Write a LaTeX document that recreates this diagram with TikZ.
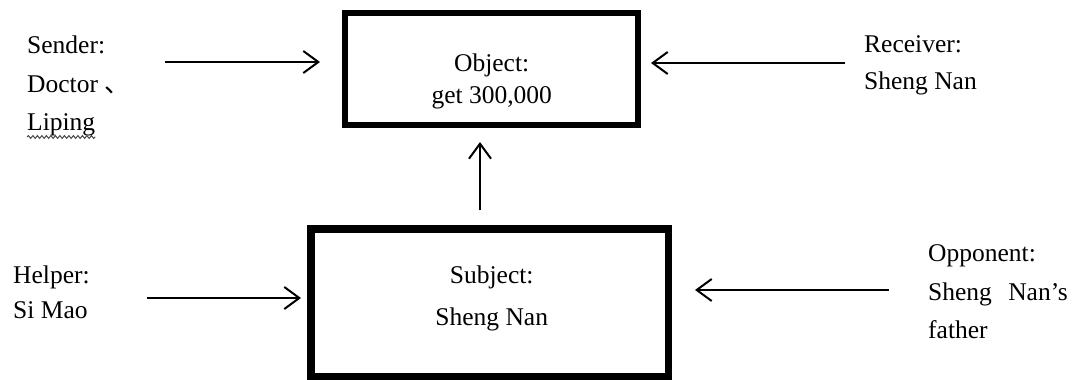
\documentclass[tikz,border=0pt]{standalone}
\usepackage{fontspec}
\setmainfont{Liberation Serif}
\newfontfamily\cjkf{Noto Sans CJK SC}
\usetikzlibrary{arrows.meta,decorations.pathmorphing}
\begin{document}
\begin{tikzpicture}[x=1pt,y=-1pt,
  lbl/.style={inner sep=0pt,font=\fontsize{25.5}{30}\selectfont},
  actbox/.style={draw,inner sep=0pt},
  arr/.style={line width=2pt,-{Straight Barb[length=15pt,width=22pt,line width=2pt]}}]
\useasboundingbox[fill=white] (0,0) rectangle (1080,380);
% boxes
\node[actbox,line width=6.5pt,minimum width=293pt,minimum height=112pt] (obj) at (491.5,69) {};
\node[actbox,line width=7.5pt,minimum width=357.5pt,minimum height=147.5pt] (subj) at (489.75,302.75) {};
% box texts
\node[lbl,anchor=base] (objA) at (491.7,71) {Object:};
\node[lbl,anchor=base] (objB) at (491.7,103) {get 300,000};
\node[lbl,anchor=base] (subA) at (491.7,283) {Subject:};
\node[lbl,anchor=base] (subB) at (491.7,325) {Sheng Nan};
% side texts
\node[lbl,anchor=base west] (sen1) at (27,53) {Sender:};
\node[lbl,anchor=base west] (sen2) at (27,92) {Doctor {\cjkf 、}};
\node[lbl,anchor=base west] (sen3) at (27,130) {Liping};
\draw[gray!60!black,line width=1pt,decorate,decoration={snake,amplitude=1.4pt,segment length=4.5pt}] (sen3.south west|-0,137) -- (sen3.south east|-0,137);
\node[lbl,anchor=base west] (rec1) at (864,52) {Receiver:};
\node[lbl,anchor=base west] (rec2) at (864,89) {Sheng Nan};
\node[lbl,anchor=base west] (hel1) at (13,283) {Helper:};
\node[lbl,anchor=base west] (hel2) at (13,318) {Si Mao};
\node[lbl,anchor=base west] (opp1) at (928,261.5) {Opponent:};
\node[lbl,anchor=base west] (opp2) at (928,300) {Sheng\hspace{10pt} Nan’s};
\node[lbl,anchor=base west] (opp3) at (928,338) {father};
% arrow end points
\coordinate (sS) at (165,62);  \coordinate (sE) at (320,62);
\coordinate (rS) at (845,63);  \coordinate (rE) at (651,63);
\coordinate (uS) at (480,210); \coordinate (uE) at (480,142);
\coordinate (hS) at (147,298); \coordinate (hE) at (301,298);
\coordinate (oS) at (889,290); \coordinate (oE) at (695,290);
\draw[arr] (sS) -- (sE);
\draw[arr] (rS) -- (rE);
\draw[arr] (uS) -- (uE);
\draw[arr] (hS) -- (hE);
\draw[arr] (oS) -- (oE);
\end{tikzpicture}
\end{document}
